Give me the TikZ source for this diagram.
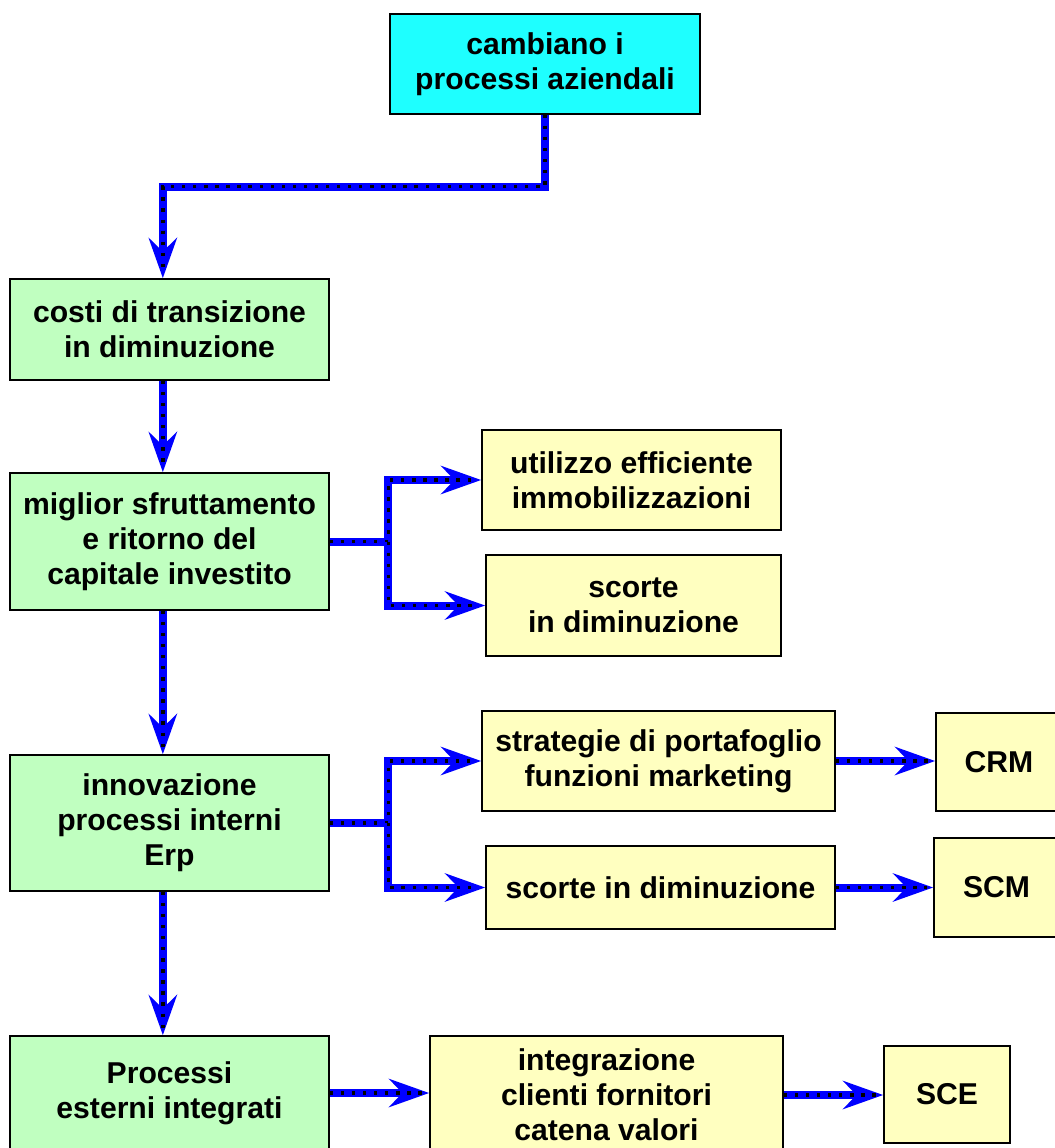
\documentclass[tikz,border=0pt]{standalone}
\usepackage{fontspec}
\setmainfont{Liberation Sans}
\usetikzlibrary{arrows.meta}
\definecolor{topcyan}{HTML}{1EFFFF}
\definecolor{stagegreen}{HTML}{C0FFC0}
\definecolor{goalyellow}{HTML}{FFFFC0}
\definecolor{flowblue}{HTML}{0000FF}
\tikzset{
    every picture/.style={x=0.75pt,y=-0.75pt,line join=miter},
    box/.style={draw,line width=1.2pt,align=center,inner sep=2pt,
        font=\fontsize{22.6pt}{26.3pt}\selectfont\bfseries},
    head/.style={box,fill=topcyan},
    stage/.style={box,fill=stagegreen,minimum width=239.25pt},
    goal/.style={box,fill=goalyellow},
    flow/.style={preaction={draw=flowblue,solid,line width=6pt,shorten >=0pt,
        -{Stealth[length=30pt,width=21pt,inset=10pt]}},
        draw=black,line width=2.5pt,dash pattern=on 2.5pt off 5.8pt,shorten >=5pt}
}
\begin{document}
\begin{tikzpicture}
    \useasboundingbox (0,0) rectangle (1055,1148);
    \clip (0,0) rectangle (1055,1148);
    \node[head,minimum width=232.5pt,minimum height=75pt]   (top) at (545,64)     {cambiano i\\processi aziendali};
    \node[stage,minimum height=75.75pt]                     (c1)  at (169.5,329.5) {costi di transizione\\in diminuzione};
    \node[stage,minimum height=102.75pt]                    (c2)  at (169.5,541.5) {miglior sfruttamento\\e ritorno del\\capitale investito};
    \node[goal,minimum width=224.25pt,minimum height=75pt]  (u1)  at (631.5,480)   {utilizzo efficiente\\immobilizzazioni};
    \node[goal,minimum width=221.25pt,minimum height=75.75pt] (u2) at (633.5,605.5) {scorte\\in diminuzione};
    \node[stage,minimum height=102pt]                       (c3)  at (169.5,823)   {innovazione\\processi interni\\Erp};
    \node[goal,minimum width=264.75pt,minimum height=75pt]  (s1)  at (658.5,761)   {strategie di portafoglio\\funzioni marketing};
    \node[goal,minimum width=94.5pt,minimum height=73.5pt]  (crm) at (999,762)     {CRM};
    \node[goal,minimum width=261.75pt,minimum height=62.25pt] (s2) at (660.5,887.5) {scorte in diminuzione};
    \node[goal,minimum width=93.75pt,minimum height=74.25pt] (scm) at (996.5,887.5) {SCM};
    \node[stage,minimum height=85.5pt]                      (c4)  at (169.5,1093)  {Processi\\esterni integrati};
    \node[goal,minimum width=264.75pt,minimum height=88.5pt] (y5) at (606.5,1095)  {integrazione\\clienti fornitori\\catena valori};
    \node[goal,minimum width=94.5pt,minimum height=72.75pt] (sce) at (947,1094.5)  {SCE};
    % main chain
    \draw[flow] (top.south) -- ++(0,72) -| ([xshift=-5pt]c1.north);
    \draw[flow] ([xshift=-5pt]c1.south) -- ([xshift=-5pt]c2.north);
    \draw[flow] ([xshift=-5pt]c2.south) -- ([xshift=-5pt]c3.north);
    \draw[flow] ([xshift=-5pt]c3.south) -- ([xshift=-5pt]c4.north);
    % branches
    \coordinate (j2) at ([xshift=44pt]c2.east);
    \draw[flow] (c2.east) -- (j2) |- (u1.west);
    \draw[flow] (j2) |- (u2.west);
    \coordinate (j3) at ([xshift=44pt]c3.east);
    \draw[flow] (c3.east) -- (j3) |- (s1.west);
    \draw[flow] (j3) |- (s2.west);
    \draw[flow] (s1.east) -- (s1.east -| crm.west);
    \draw[flow] (s2.east) -- (s2.east -| scm.west);
    \draw[flow] (c4.east) -- (c4.east -| y5.west);
    \draw[flow] (y5.east) -- (y5.east -| sce.west);
\end{tikzpicture}
\end{document}
